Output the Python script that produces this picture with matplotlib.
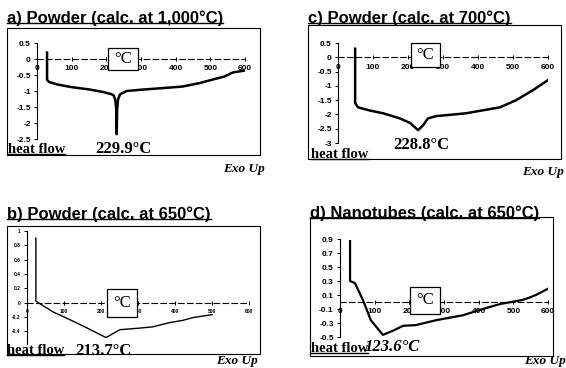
import matplotlib
matplotlib.use("Agg")
import matplotlib.pyplot as plt
from matplotlib.patches import Rectangle
from matplotlib.lines import Line2D

W, H = 566, 368

# ---- data ----
a_temp = [29, 29, 35, 60, 100, 150, 190, 215, 222, 226, 229, 229.9, 231, 234, 240, 259, 300, 374, 420, 470, 504, 540, 565, 600]
a_flow = [0.2, -0.65, -0.72, -0.8, -0.88, -0.95, -1.03, -1.1, -1.15, -1.3, -1.6, -2.35, -1.6, -1.25, -1.1, -1.0, -0.96, -0.9, -0.86, -0.75, -0.65, -0.55, -0.42, -0.36]

c_temp = [49, 49, 57, 90, 129, 177, 206, 228.8, 243, 257, 280, 366, 463, 509, 557, 600]
c_flow = [0.3, -1.6, -1.75, -1.86, -1.96, -2.14, -2.3, -2.55, -2.38, -2.14, -2.06, -1.96, -1.75, -1.5, -1.15, -0.8]

b_temp = [24, 24, 30, 45, 70, 116, 160, 213.7, 251, 300, 340, 386, 421, 449, 500]
b_flow = [0.9, 0.02, 0.0, -0.05, -0.13, -0.24, -0.35, -0.49, -0.38, -0.36, -0.34, -0.28, -0.25, -0.21, -0.17]

d_temp = [29, 29, 43, 66, 89, 123.6, 153, 182, 219, 277, 354, 412, 461, 527, 545, 565, 600]
d_flow = [0.87, 0.3, 0.27, 0.03, -0.26, -0.47, -0.41, -0.34, -0.33, -0.26, -0.19, -0.1, -0.03, 0.03, 0.06, 0.1, 0.19]

titles = ["a) Powder (calc. at 1,000\u00b0C)", "c) Powder (calc. at 700\u00b0C)",
          "b) Powder (calc. at 650\u00b0C)", "d) Nanotubes (calc. at 650\u00b0C)"]
peaks = ["229.9\u00b0C", "228.8\u00b0C", "213.7\u00b0C", "123.6\u00b0C"]
x_ticks = [0, 100, 200, 300, 400, 500, 600]
a_yticks = [0.5, 0, -0.5, -1, -1.5, -2, -2.5]
c_yticks = [0.5, 0, -0.5, -1, -1.5, -2, -2.5, -3]
b_yticks = [1, 0.8, 0.6, 0.4, 0.2, 0, -0.2, -0.4]
d_yticks = [0.9, 0.7, 0.5, 0.3, 0.1, -0.1, -0.3, -0.5]

SANS = "Liberation Sans"
SERIF = "Liberation Serif"

fig = plt.figure(figsize=(W / 100, H / 100), dpi=100)


def fx(x):
    return x / W


def fy(y):
    return 1 - y / H


def panel(temp, flow, box, ylim, yticks, tsize, lw):
    l, r, t, b = box
    ax = fig.add_axes([fx(l), fy(b), fx(r - l), (b - t) / H])
    ax.plot(temp, flow, color="black", lw=lw, solid_joinstyle="round")
    ax.set_xlim(0, 600)
    ax.set_ylim(*ylim)
    ax.set_xticks(x_ticks)
    ax.set_yticks(yticks)
    ax.set_yticklabels([f"{v:g}" for v in yticks])
    for s in ("top", "right"):
        ax.spines[s].set_visible(False)
    ax.spines["bottom"].set_position(("data", 0))
    ax.spines["bottom"].set_linestyle((0, (5, 3)))
    ax.spines["bottom"].set_linewidth(0.8)
    ax.spines["left"].set_linewidth(0.8)
    ax.tick_params(axis="x", direction="inout", length=3, width=0.7, pad=3)
    ax.tick_params(axis="y", direction="out", length=2.5, width=0.7, pad=2)
    for lab in ax.get_xticklabels() + ax.get_yticklabels():
        lab.set_fontfamily(SANS)
        lab.set_fontweight("bold")
        lab.set_fontsize(tsize)
    ax.patch.set_alpha(0)
    return ax


panel(a_temp, a_flow, (37, 245, 43, 139), (-2.5, 0.5), a_yticks, 6, 1.8)
panel(c_temp, c_flow, (338, 548, 43, 143), (-3, 0.5), c_yticks, 6, 1.8)
panel(b_temp, b_flow, (27, 249, 231, 344), (-0.58, 1.0), b_yticks, 3.5, 1.0)
panel(d_temp, d_flow, (340, 548, 239, 337), (-0.5, 0.9), d_yticks, 6, 1.6)

# outer frames
frames = [(7, 28, 260, 155), (308, 25, 561, 159), (7, 226, 260, 354), (310, 217, 553, 356)]
for x0, y0, x1, y1 in frames:
    fig.patches.append(Rectangle((fx(x0), fy(y1)), fx(x1 - x0), (y1 - y0) / H,
                                 transform=fig.transFigure, fill=False,
                                 edgecolor="black", lw=0.8))

# degC boxes
cboxes = [(108, 48, 138, 70), (411, 43, 440, 67), (107, 289, 137, 317), (410, 287, 440, 314)]
for x0, y0, x1, y1 in cboxes:
    fig.patches.append(Rectangle((fx(x0), fy(y1)), fx(x1 - x0), (y1 - y0) / H,
                                 transform=fig.transFigure, facecolor="white",
                                 edgecolor="black", lw=0.9, zorder=5))
    fig.text(fx((x0 + x1) / 2), fy((y0 + y1) / 2), "\u00b0C", family=SERIF,
             fontsize=12, ha="center", va="center", zorder=6)

# titles
title_pos = [(7, 18), (308, 18), (7, 214), (310, 213)]
title_objs = []
for (x, y), s in zip(title_pos, titles):
    t = fig.text(fx(x), fy(y), s, family=SANS, fontweight="bold", fontsize=12,
                 ha="left", va="center", zorder=6)
    title_objs.append(t)

# peak labels
peak_pos = [(95, 149), (393, 145), (75, 351), (365, 347)]
for i, ((x, y), s) in enumerate(zip(peak_pos, peaks)):
    fig.text(fx(x), fy(y), s, family=SERIF, fontweight="bold", fontsize=12,
             style="italic" if i == 3 else "normal",
             ha="left", va="center", zorder=6)

# heat flow labels
hf_pos = [(8, 150), (311, 155), (7, 351), (311, 349)]
hf_objs = []
for x, y in hf_pos:
    t = fig.text(fx(x), fy(y), "heat flow", family=SERIF, fontweight="bold",
                 fontsize=10.5, ha="left", va="center", zorder=6)
    hf_objs.append(t)

# Exo Up
exo_pos = [(265, 169), (564, 172), (258, 361), (566, 361)]
for x, y in exo_pos:
    fig.text(fx(x), fy(y), "Exo Up", family=SERIF, fontweight="bold",
             style="italic", fontsize=9.5, ha="right", va="center", zorder=6)

# underline titles and heat flow labels
fig.canvas.draw()
renderer = fig.canvas.get_renderer()
inv = fig.transFigure.inverted()
for t in title_objs + hf_objs:
    bb = t.get_window_extent(renderer)
    (x0, y0), (x1, _) = inv.transform([(bb.x0, bb.y0 + 2.5), (bb.x1, bb.y0)])
    fig.lines.append(Line2D([x0, x1], [y0, y0], transform=fig.transFigure,
                            color="black", lw=1.0, zorder=6))

fig.savefig("out.png", dpi=100)
